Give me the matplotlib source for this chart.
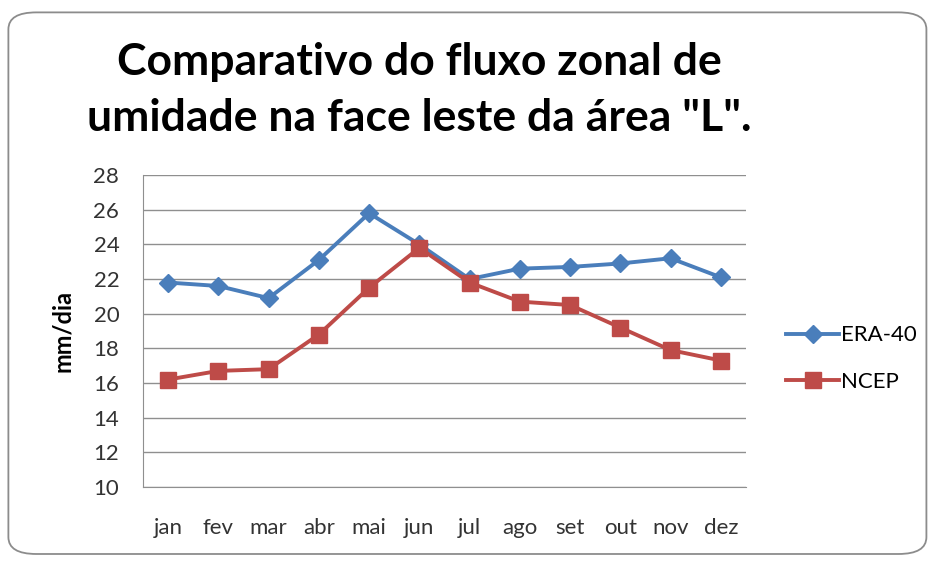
import matplotlib
matplotlib.use("Agg")
import matplotlib.pyplot as plt
from matplotlib.patches import FancyBboxPatch

months = ['jan', 'fev', 'mar', 'abr', 'mai', 'jun', 'jul', 'ago', 'set', 'out', 'nov', 'dez']
era40 = [21.8, 21.6, 20.9, 23.1, 25.8, 24.0, 22.0, 22.6, 22.7, 22.9, 23.2, 22.1]
ncep = [16.2, 16.7, 16.8, 18.8, 21.5, 23.8, 21.8, 20.7, 20.5, 19.2, 17.9, 17.3]
yticks = [10, 12, 14, 16, 18, 20, 22, 24, 26, 28]

plt.rcParams['font.family'] = ['Lato', 'DejaVu Sans']

fig = plt.figure(figsize=(9.32, 5.63), dpi=100)

# rounded frame around the whole chart
frame = FancyBboxPatch((0.009, 0.016), 0.985, 0.962, boxstyle="round,pad=0,rounding_size=0.03",
                       transform=fig.transFigure, facecolor='white', edgecolor='#8c8c8c',
                       linewidth=1.3, zorder=-5)
fig.patches.append(frame)

ax = fig.add_axes([0.1534, 0.135, 0.647, 0.554])
ax.patch.set_alpha(0)
x = list(range(len(months)))
ax.plot(x, era40, color='#4A7EBB', linewidth=2.8, marker='D', markersize=9, label='ERA-40', zorder=3)
ax.plot(x, ncep, color='#BE4B48', linewidth=2.8, marker='s', markersize=12, label='NCEP', zorder=3)

ax.set_ylim(10, 28)
ax.set_xlim(-0.5, 11.5)
ax.set_yticks(yticks)
ax.set_xticks(x)
ax.set_xticklabels(months)
ax.grid(axis='y', color='#8f8f8f', linewidth=1.0)
ax.set_axisbelow(True)
for s in ['top', 'right']:
    ax.spines[s].set_visible(False)
for s in ['left', 'bottom']:
    ax.spines[s].set_color('#8f8f8f')
ax.tick_params(length=0, labelsize=16, colors='#333333')
ax.tick_params(axis='y', pad=17)
ax.tick_params(axis='x', pad=22)
ax.set_ylabel('mm/dia', fontsize=17, fontweight='bold', labelpad=14)

fig.text(0.4496, 0.89, 'Comparativo do fluxo zonal de', ha='center', va='center',
         fontsize=32, fontweight='bold')
fig.text(0.4496, 0.79, 'umidade na face leste da área "L".', ha='center', va='center',
         fontsize=32, fontweight='bold')

fig.legend(loc='center left', bbox_to_anchor=(0.822, 0.363), frameon=False, fontsize=16,
           handlelength=2.4, handletextpad=0.05, labelspacing=1.2)

fig.savefig('out.png', dpi=100)
